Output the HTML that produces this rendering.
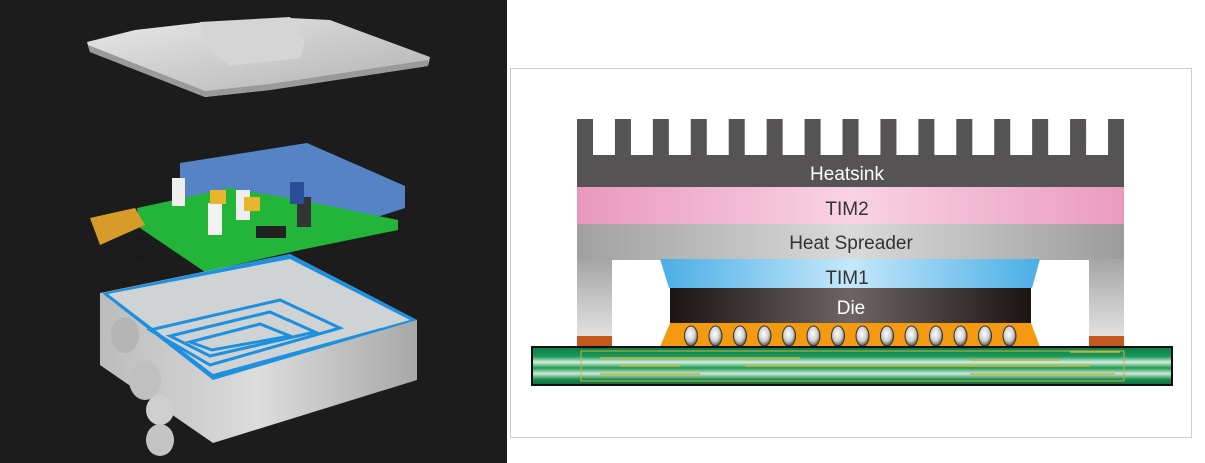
<!DOCTYPE html>
<html><head><meta charset="utf-8"><style>
html,body{margin:0;padding:0;background:#fff;}
body{width:1205px;height:463px;position:relative;overflow:hidden;font-family:"Liberation Sans",sans-serif;}
</style></head><body>
<svg width="1205" height="463" viewBox="0 0 1205 463" xmlns="http://www.w3.org/2000/svg" style="position:absolute;left:0;top:0">
<defs>
<linearGradient id="lid" x1="0" y1="0" x2="1" y2="1"><stop offset="0" stop-color="#e8e8e8"/><stop offset="1" stop-color="#b0b0b0"/></linearGradient>
<linearGradient id="box" x1="0" y1="0" x2="1" y2="0"><stop offset="0" stop-color="#bcbcbc"/><stop offset=".5" stop-color="#dcdcdc"/><stop offset="1" stop-color="#a8a8a8"/></linearGradient>
<linearGradient id="tim2" x1="0" x2="1"><stop offset="0" stop-color="#e998bc"/><stop offset=".5" stop-color="#f8d3e3"/><stop offset="1" stop-color="#ea9bbd"/></linearGradient>
<linearGradient id="hs" x1="0" x2="1"><stop offset="0" stop-color="#a0a0a0"/><stop offset=".5" stop-color="#dadada"/><stop offset="1" stop-color="#9c9c9c"/></linearGradient>
<linearGradient id="tim1" x1="0" x2="1"><stop offset="0" stop-color="#4aaee6"/><stop offset=".5" stop-color="#c5e8fa"/><stop offset="1" stop-color="#4aaee6"/></linearGradient>
<linearGradient id="die" x1="0" x2="1"><stop offset="0" stop-color="#1a1412"/><stop offset=".5" stop-color="#6c6564"/><stop offset="1" stop-color="#1a1412"/></linearGradient>
<linearGradient id="leg" x1="0" y1="0" x2="0" y2="1"><stop offset="0" stop-color="#a5a5a5"/><stop offset="1" stop-color="#e2e2e2"/></linearGradient>
<radialGradient id="ball" cx=".45" cy=".4" r=".6"><stop offset="0" stop-color="#fff"/><stop offset=".6" stop-color="#cfcfcf"/><stop offset="1" stop-color="#555"/></radialGradient>
<linearGradient id="pcb" x1="0" y1="0" x2="0" y2="1"><stop offset="0" stop-color="#0e7a4a"/><stop offset=".25" stop-color="#1a9a5a"/><stop offset=".4" stop-color="#d6eee0"/><stop offset=".55" stop-color="#1f9a4e"/><stop offset=".7" stop-color="#cfe8d8"/><stop offset=".85" stop-color="#1b8f50"/><stop offset="1" stop-color="#0e6a40"/></linearGradient>
</defs>
<rect x="0" y="0" width="507" height="463" fill="#1c1c1c"/>
<polygon points="87,42 135,30 205,22 290,18 330,20 430,57 428,66 270,90 205,97 90,52" fill="url(#lid)"/>
<polygon points="200,22 290,17 305,40 300,58 230,66 205,45" fill="#d5d5d5"/>
<polygon points="90,52 205,97 270,90 428,66 428,60 270,84 205,91 88,45" fill="#9a9a9a"/>
<polygon points="180,163 307,143 405,186 405,208 300,242 180,200" fill="#5c8fd8" opacity=".9"/>
<polygon points="137,208 230,188 300,200 398,220 398,230 300,250 205,272 140,228" fill="#22b53a"/>
<rect x="172" y="178" width="13" height="28" fill="#eee"/><rect x="208" y="203" width="14" height="32" fill="#f2f2f2"/><rect x="236" y="190" width="14" height="30" fill="#eee"/><rect x="297" y="197" width="14" height="30" fill="#333"/><rect x="290" y="182" width="14" height="22" fill="#2a4f9a"/>
<rect x="210" y="190" width="16" height="14" fill="#e7b62a"/><rect x="244" y="197" width="16" height="14" fill="#e7b62a"/><rect x="256" y="226" width="30" height="12" fill="#222"/>
<polygon points="90,218 135,208 145,225 100,245" fill="#d79b2a"/><ellipse cx="140" cy="248" rx="14" ry="12" fill="#1a1a1a"/>
<polygon points="100,293 290,254 417,320 417,380 213,443 100,365" fill="url(#box)"/>
<polygon points="102,293 290,254 417,320 213,380" fill="#1e90e0"/>
<polygon points="108,294 290,259 410,320 213,374" fill="#cfd3d3"/>
<polygon points="150,330 280,300 340,328 210,365" fill="none" stroke="#1e90e0" stroke-width="3"/>
<polygon points="170,336 270,312 315,332 210,356" fill="none" stroke="#1e90e0" stroke-width="3"/>
<polygon points="190,342 260,324 290,336 212,350" fill="none" stroke="#1e90e0" stroke-width="3"/>
<ellipse cx="125" cy="335" rx="14" ry="18" fill="#b5b5b5"/><ellipse cx="145" cy="380" rx="16" ry="20" fill="#c0c0c0"/><ellipse cx="160" cy="410" rx="14" ry="15" fill="#cfcfcf"/><ellipse cx="160" cy="440" rx="14" ry="16" fill="#c4c4c4"/>
<rect x="510.5" y="68.5" width="681" height="369" fill="#fff" stroke="#cfcfcf"/>
<rect x="577" y="155" width="547" height="33" fill="#555354"/>
<g fill="#555354" id="fins"></g>
<rect x="577" y="187" width="547" height="38" fill="url(#tim2)"/>
<rect x="577" y="224" width="547" height="36" fill="url(#hs)"/>
<rect x="577" y="259" width="35" height="78" fill="url(#leg)"/><rect x="1089" y="259" width="35" height="78" fill="url(#leg)"/>
<rect x="577" y="336" width="35" height="12" fill="#c5581e"/><rect x="1089" y="336" width="35" height="12" fill="#c5581e"/>
<polygon points="660,259 1040,259 1032,288 669,288" fill="url(#tim1)"/>
<rect x="670" y="288" width="361" height="35" fill="url(#die)"/>
<polygon points="670,323 1031,323 1040,347 660,347" fill="#f39a10"/>
<g id="balls"></g>
<rect x="532" y="347" width="640" height="38" fill="url(#pcb)" stroke="#111" stroke-width="2"/>
<rect x="581" y="351" width="543" height="30" fill="none" stroke="#c9b23a" stroke-width="1"/>
<g stroke="#c9b23a" stroke-width="1.5">
<line x1="600" y1="358" x2="800" y2="358"/><line x1="620" y1="366" x2="680" y2="366"/><line x1="745" y1="366" x2="1090" y2="366"/><line x1="970" y1="360" x2="1060" y2="360"/><line x1="600" y1="374" x2="700" y2="374"/><line x1="970" y1="374" x2="1115" y2="374"/><line x1="1070" y1="352" x2="1120" y2="352"/>
</g>
<g font-size="19" text-anchor="middle">
<text x="847" y="180" fill="#fff">Heatsink</text>
<text x="847" y="215" fill="#333">TIM2</text>
<text x="851" y="249" fill="#333">Heat Spreader</text>
<text x="847" y="284" fill="#333">TIM1</text>
<text x="851" y="314" fill="#fff">Die</text>
</g>
</svg>
<script>
var ns="http://www.w3.org/2000/svg",f=document.getElementById("fins");
for(var i=0;i<15;i++){var r=document.createElementNS(ns,"rect");r.setAttribute("x",577+i*37.93);r.setAttribute("y",119);r.setAttribute("width",16);r.setAttribute("height",40);f.appendChild(r);}
var b=document.getElementById("balls");
for(var i=0;i<14;i++){var e=document.createElementNS(ns,"ellipse");e.setAttribute("cx",691+i*24.5);e.setAttribute("cy",336);e.setAttribute("rx",6.5);e.setAttribute("ry",10);e.setAttribute("fill","url(#ball)");e.setAttribute("stroke","#333");e.setAttribute("stroke-width","1");b.appendChild(e);}
</script>
</body></html>
